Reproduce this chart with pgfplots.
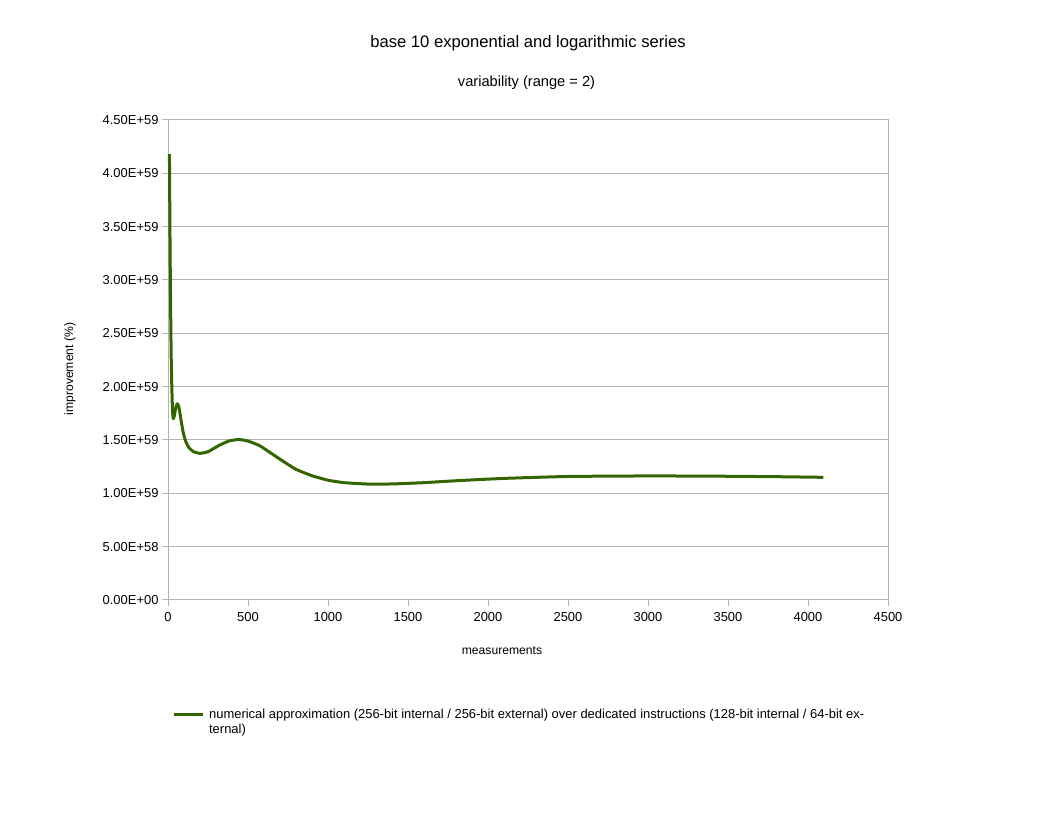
\documentclass[border=0pt]{standalone}
\usepackage{fontspec}
\setmainfont{Liberation Sans}
\usepackage{pgfplots}
\pgfplotsset{compat=1.18}
\definecolor{serie}{RGB}{51,102,0}
\definecolor{gridc}{RGB}{179,179,179}
\begin{document}
\begin{tikzpicture}
\path[use as bounding box] (0bp,0bp) rectangle (1056bp,816bp);
\begin{axis}[
  at={(168bp,216bp)}, anchor=south west,
  scale only axis, width=720bp, height=480bp,
  xmin=0, xmax=4500, ymin=0, ymax=4.5e59,
  clip=false,
  xtick={0,500,1000,1500,2000,2500,3000,3500,4000,4500},
  xticklabels={0,500,1000,1500,2000,2500,3000,3500,4000,4500},
  ytick={0,5e58,1e59,1.5e59,2e59,2.5e59,3e59,3.5e59,4e59,4.5e59},
  yticklabels={0.00E+00,5.00E+58,1.00E+59,1.50E+59,2.00E+59,2.50E+59,3.00E+59,3.50E+59,4.00E+59,4.50E+59},
  scaled y ticks=false,
  xtick pos=left, ytick pos=left,
  tick align=outside, major tick length=6bp,
  tick style={draw=gridc, line width=1bp},
  ticklabel style={font=\fontsize{13}{15}\selectfont},
  xticklabel style={yshift=-3bp},
  ymajorgrids, major grid style={draw=gridc, line width=1bp},
  axis line style={draw=gridc, line width=1bp},
  legend style={at={(0.0055,-0.2233)}, anchor=north west, draw=none, fill=none,
    font=\fontsize{13}{15}\selectfont, inner sep=0pt,
    /tikz/every odd column/.append style={column sep=3bp}},
  legend cell align=left,
  legend image code/.code={\draw[#1] (0bp,0bp) -- (29bp,0bp);},
]
\addplot[serie, line width=3bp, line join=round, smooth, tension=0.3] coordinates {
(9,4.18e59)
(11,3.72e59)
(13,3.30e59)
(15.5,2.88e59)
(18,2.52e59)
(20.5,2.24e59)
(23.5,2.02e59)
(28,1.78e59)
(33,1.70e59)
(40,1.73e59)
(48,1.80e59)
(58,1.84e59)
(68,1.81e59)
(80,1.70e59)
(95,1.57e59)
(110,1.49e59)
(130,1.43e59)
(160,1.39e59)
(200,1.375e59)
(250,1.39e59)
(320,1.45e59)
(380,1.49e59)
(440,1.505e59)
(500,1.49e59)
(575,1.445e59)
(650,1.37e59)
(720,1.30e59)
(800,1.225e59)
(900,1.165e59)
(1000,1.123e59)
(1100,1.10e59)
(1250,1.087e59)
(1400,1.088e59)
(1600,1.10e59)
(1800,1.118e59)
(2100,1.14e59)
(2500,1.158e59)
(3000,1.163e59)
(3400,1.161e59)
(3800,1.156e59)
(4096,1.15e59)
};
\addlegendentry{\parbox[t]{690bp}{numerical approximation (256-bit internal / 256-bit external) over dedicated instructions (128-bit internal / 64-bit ex-\\ternal)}}
\end{axis}
\node[anchor=base, font=\fontsize{16.7}{20}\selectfont] at (528bp,768.7bp) {base 10 exponential and logarithmic series};
\node[anchor=base, font=\fontsize{14.7}{18}\selectfont] at (526.5bp,729.5bp) {variability (range = 2)};
\node[anchor=base, font=\fontsize{12.2}{15}\selectfont] at (502bp,161.7bp) {measurements};
\node[rotate=90, font=\fontsize{12.2}{15}\selectfont] at (70bp,447bp) {improvement (\%)};
\end{tikzpicture}
\end{document}
